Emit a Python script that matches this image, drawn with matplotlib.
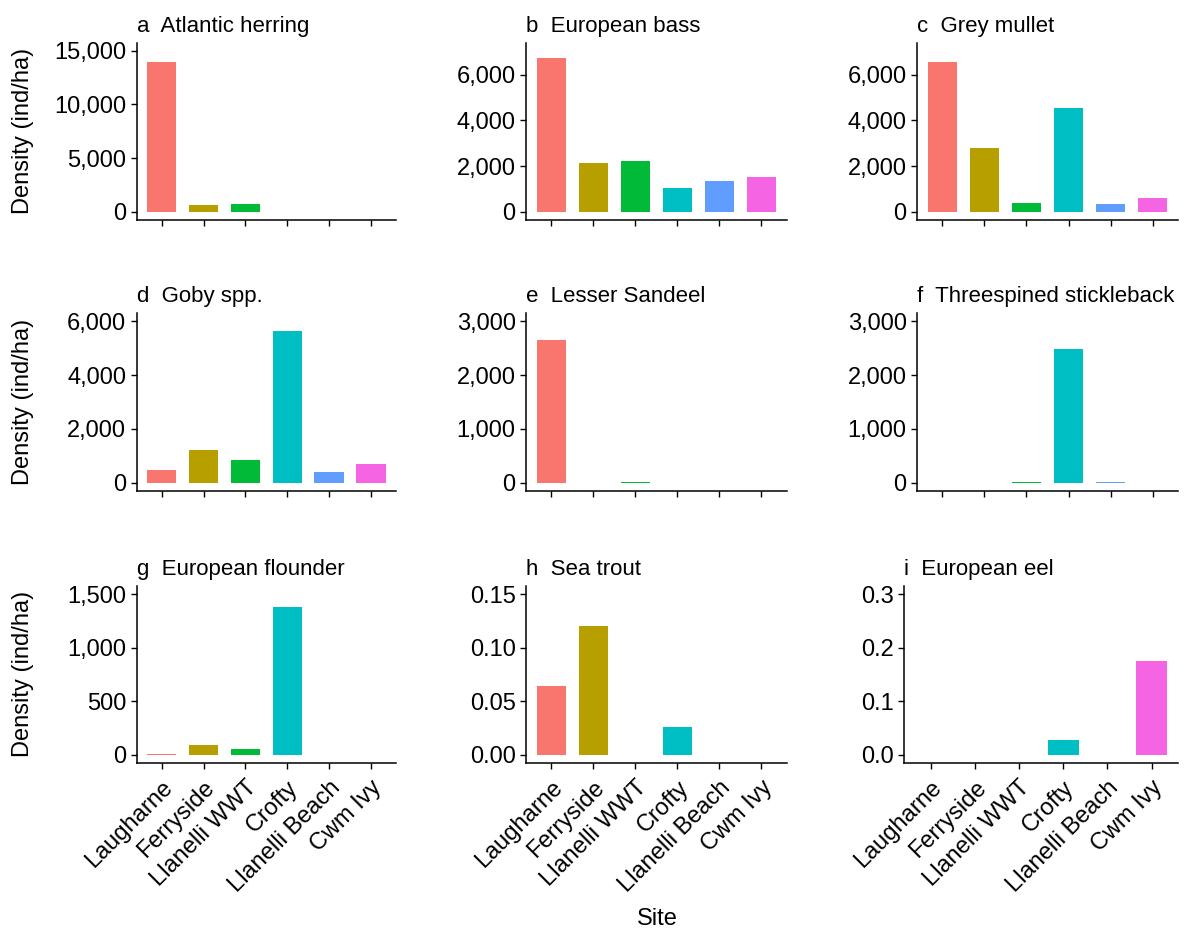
import matplotlib
matplotlib.use('Agg')
import matplotlib.pyplot as plt
from matplotlib.ticker import FuncFormatter

plt.rcParams['font.family'] = ['Liberation Sans', 'DejaVu Sans']

sites = ['Laugharne', 'Ferryside', 'Llanelli WWT', 'Crofty', 'Llanelli Beach', 'Cwm Ivy']
site_colors = ['#F8766D', '#B79F00', '#00BA38', '#00BFC4', '#619CFF', '#F564E3']

titles = ['a  Atlantic herring', 'b  European bass', 'c  Grey mullet',
          'd  Goby spp.', 'e  Lesser Sandeel', 'f  Threespined stickleback',
          'g  European flounder', 'h  Sea trout', 'i  European eel']

herring = [13940, 590, 740, 0, 0, 0]
bass = [6740, 2140, 2200, 1020, 1340, 1500]
mullet = [6540, 2790, 390, 4550, 340, 600]
goby = [460, 1230, 860, 5660, 410, 685]
sandeel = [2650, 0, 20, 0, 0, 0]
stickleback = [0, 0, 20, 2490, 20, 0]
flounder = [10, 90, 56, 1380, 0, 0]
sea_trout = [0.064, 0.120, 0, 0.026, 0, 0]
eel = [0, 0, 0, 0.027, 0, 0.175]

series = [herring, bass, mullet, goby, sandeel, stickleback, flounder, sea_trout, eel]
y_max = [15000, 7050, 7050, 6000, 3000, 3000, 1500, 0.15, 0.3]
y_ticks = [[0, 5000, 10000, 15000],
           [0, 2000, 4000, 6000],
           [0, 2000, 4000, 6000],
           [0, 2000, 4000, 6000],
           [0, 1000, 2000, 3000],
           [0, 1000, 2000, 3000],
           [0, 500, 1000, 1500],
           [0, 0.05, 0.10, 0.15],
           [0, 0.1, 0.2, 0.3]]
fmts = ['{:,.0f}'] * 7 + ['{:.2f}', '{:.1f}']

W, H = 1196, 933
# panel boxes in pixels
col_x = [(136.7, 396), (526, 786.7), (917, 1178)]
row_y = [(42.7, 219.7), (313.3, 490.7), (586, 762.7)]

fig = plt.figure(figsize=(W / 100, H / 100), dpi=100)

for i, vals in enumerate(series):
    r, c = divmod(i, 3)
    x0, x1 = col_x[c]
    if i == 8:
        x0 = 904.3
    y0, y1 = row_y[r]
    ax = fig.add_axes([x0 / W, 1 - y1 / H, (x1 - x0) / W, (y1 - y0) / H])
    xs = list(range(1, len(sites) + 1))
    ax.bar(xs, vals, width=0.7, color=site_colors)
    m = y_max[i]
    ax.set_ylim(-0.05 * m, 1.05 * m)
    ax.set_xlim(0.4, 6.6)
    ax.set_yticks(y_ticks[i])
    f = fmts[i]
    ax.yaxis.set_major_formatter(FuncFormatter(lambda v, p, f=f: f.format(v)))
    ax.set_xticks(xs)
    if r == 2:
        ax.set_xticklabels(sites, rotation=45, ha='right', rotation_mode='anchor', fontsize=17)
    else:
        ax.set_xticklabels([])
    for s in ['top', 'right']:
        ax.spines[s].set_visible(False)
    for s in ['left', 'bottom']:
        ax.spines[s].set_linewidth(1.1)
    ax.tick_params(axis='both', length=4, width=1.0, labelsize=17, colors='black')
    ax.tick_params(axis='x', pad=6)
    ax.set_title(titles[i], loc='left', fontsize=16, pad=8)
    if c == 0:
        ax.set_ylabel('Density (ind/ha)', fontsize=17)
        ax.yaxis.set_label_coords((34 - x0) / (x1 - x0), 0.5)

fig.text(657 / W, 1 - 919 / H, 'Site', ha='center', va='center', fontsize=17)

fig.savefig('out.png', dpi=100)
